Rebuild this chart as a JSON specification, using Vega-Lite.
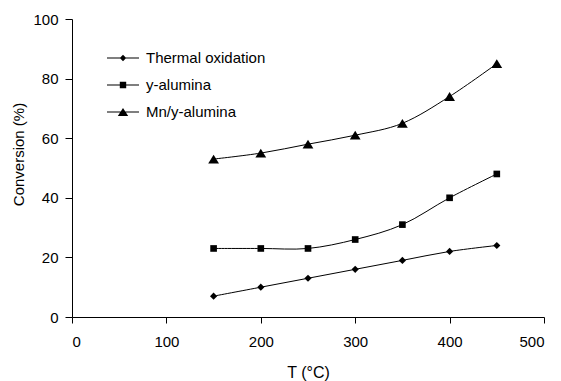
{
  "$schema": "https://vega.github.io/schema/vega-lite/v6.json",
  "autosize": "none",
  "width": 472,
  "height": 298,
  "padding": {"left": 72, "top": 19, "right": 17, "bottom": 64},
  "background": "white",
  "config": {
    "view": {"stroke": null},
    "font": "Liberation Sans",
    "axis": {
      "domainColor": "black", "tickColor": "black", "labelColor": "black", "titleColor": "black",
      "grid": false, "labelFontSize": 15, "titleFontSize": 15,
      "titleFontWeight": "normal", "labelFont": "Liberation Sans", "titleFont": "Liberation Sans"
    }
  },
  "data": {"values": [
    {"series": "Thermal oxidation", "T": 150, "conv": 7},
    {"series": "Thermal oxidation", "T": 200, "conv": 10},
    {"series": "Thermal oxidation", "T": 250, "conv": 13},
    {"series": "Thermal oxidation", "T": 300, "conv": 16},
    {"series": "Thermal oxidation", "T": 350, "conv": 19},
    {"series": "Thermal oxidation", "T": 400, "conv": 22},
    {"series": "Thermal oxidation", "T": 450, "conv": 24},
    {"series": "y-alumina", "T": 150, "conv": 23},
    {"series": "y-alumina", "T": 200, "conv": 23},
    {"series": "y-alumina", "T": 250, "conv": 23},
    {"series": "y-alumina", "T": 300, "conv": 26},
    {"series": "y-alumina", "T": 350, "conv": 31},
    {"series": "y-alumina", "T": 400, "conv": 40},
    {"series": "y-alumina", "T": 450, "conv": 48},
    {"series": "Mn/y-alumina", "T": 150, "conv": 53},
    {"series": "Mn/y-alumina", "T": 200, "conv": 55},
    {"series": "Mn/y-alumina", "T": 250, "conv": 58},
    {"series": "Mn/y-alumina", "T": 300, "conv": 61},
    {"series": "Mn/y-alumina", "T": 350, "conv": 65},
    {"series": "Mn/y-alumina", "T": 400, "conv": 74},
    {"series": "Mn/y-alumina", "T": 450, "conv": 85}
  ]},
  "encoding": {
    "x": {"field": "T", "type": "quantitative", "scale": {"domain": [0, 500], "nice": false},
      "axis": {"values": [0, 100, 200, 300, 400, 500], "title": "T (°C)", "tickSize": 6, "labelPadding": 11, "titlePadding": 15, "titleFontSize": 16}},
    "y": {"field": "conv", "type": "quantitative", "scale": {"domain": [0, 100], "nice": false},
      "axis": {"values": [0, 20, 40, 60, 80, 100], "title": "Conversion (%)", "tickSize": 7, "labelPadding": 7, "titlePadding": 6, "titleY": 135}}
  },
  "layer": [
    {
      "mark": {"type": "line", "color": "black", "strokeWidth": 1, "interpolate": "cardinal"},
      "encoding": {"detail": {"field": "series"}}
    },
    {
      "mark": {"type": "point", "filled": true, "opacity": 1, "color": "black", "size": 64},
      "encoding": {
        "shape": {"field": "series", "type": "nominal", "legend": null,
          "scale": {"domain": ["Thermal oxidation", "y-alumina", "Mn/y-alumina"],
            "range": ["M0,-0.9L0.9,0L0,0.9L-0.9,0Z", "M-0.83,-0.83H0.83V0.83H-0.83Z", "M0,-1.1L1.35,1.1L-1.35,1.1Z"]}}
      }
    },
    {
      "transform": [{"filter": "datum.T < 0"}],
      "mark": {"type": "point", "filled": true, "fill": "black", "opacity": 1},
      "encoding": {
        "shape": {"field": "series", "type": "nominal",
          "scale": {"domain": ["Thermal oxidation", "y-alumina", "Mn/y-alumina"],
            "range": ["M-2,-0.0625H2V0.0625H-2ZM0,-0.4L0.4,0L0,0.4L-0.4,0Z", "M-2,-0.0625H2V0.0625H-2ZM-0.4,-0.4H0.4V0.4H-0.4Z", "M-2,-0.0625H2V0.0625H-2ZM0,-0.5L0.65,0.5L-0.65,0.5Z"]},
          "legend": {
            "title": null, "orient": "none", "legendX": 42, "legendY": 30, "padding": 0,
            "symbolSize": 256, "labelFontSize": 15, "labelFont": "Liberation Sans", "labelColor": "black",
            "labelOffset": 14, "rowPadding": 10, "symbolFillColor": "black", "symbolOpacity": 1
          }}
      }
    }
  ],
  "resolve": {"scale": {"shape": "independent"}}
}
